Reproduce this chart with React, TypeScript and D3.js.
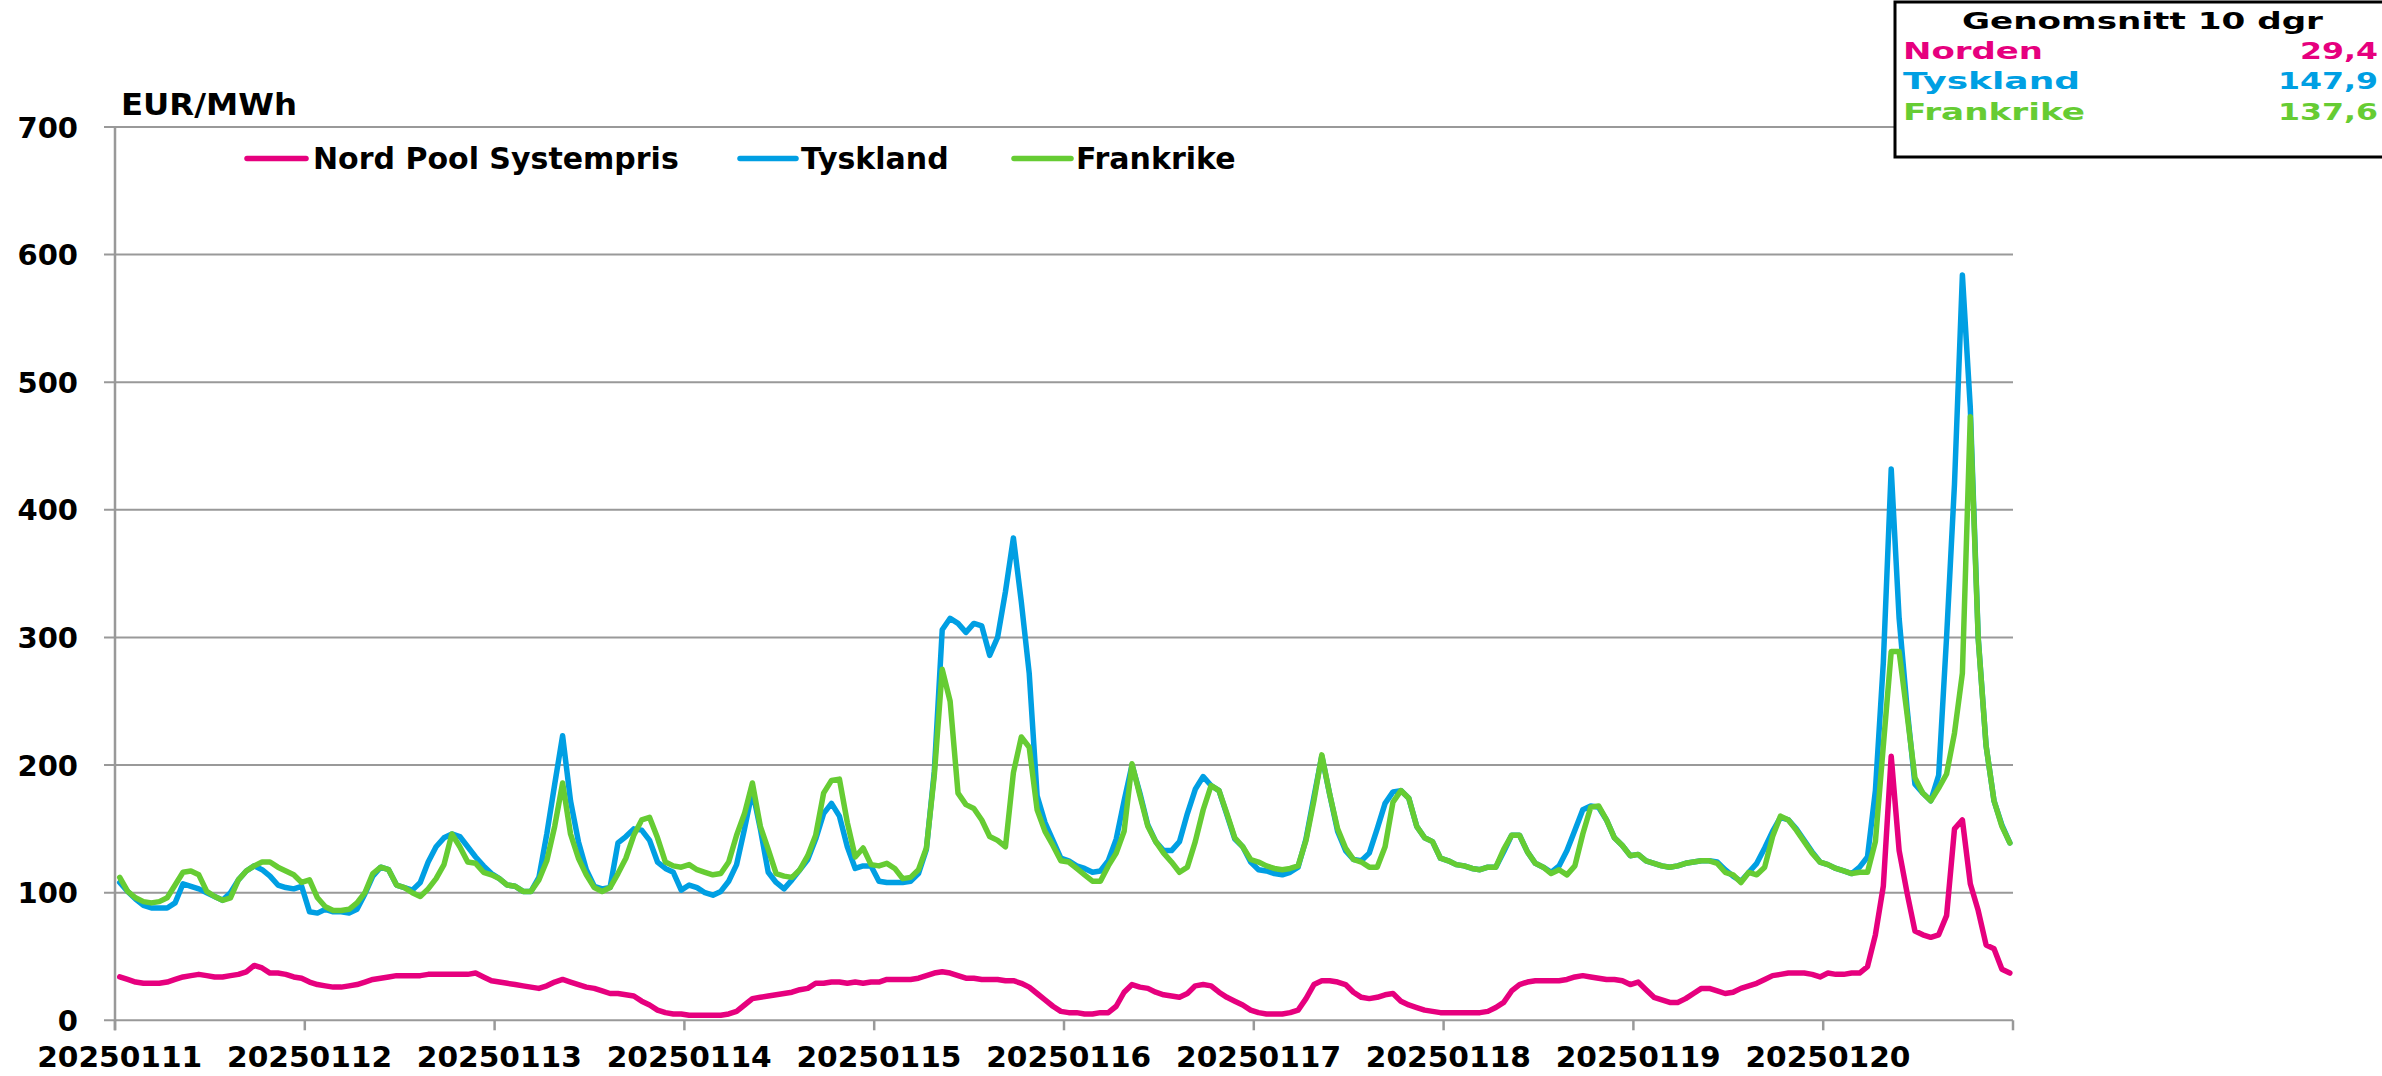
import * as d3 from 'd3';

// hourly prices, 10 days x 24 hours, EUR/MWh
const days = ['20250111', '20250112', '20250113', '20250114', '20250115', '20250116', '20250117', '20250118', '20250119', '20250120'];

const nordPool = [
  34, 32, 30, 29, 29, 29, 30, 32, 34, 35, 36, 35, 34, 34, 35, 36, 38, 43, 41, 37, 37, 36, 34, 33,
  30, 28, 27, 26, 26, 27, 28, 30, 32, 33, 34, 35, 35, 35, 35, 36, 36, 36, 36, 36, 36, 37, 34, 31,
  30, 29, 28, 27, 26, 25, 27, 30, 32, 30, 28, 26, 25, 23, 21, 21, 20, 19, 15, 12, 8, 6, 5, 5,
  4, 4, 4, 4, 4, 5, 7, 12, 17, 18, 19, 20, 21, 22, 24, 25, 29, 29, 30, 30, 29, 30, 29, 30,
  30, 32, 32, 32, 32, 33, 35, 37, 38, 37, 35, 33, 33, 32, 32, 32, 31, 31, 29, 26, 21, 16, 11, 7,
  6, 6, 5, 5, 6, 6, 11, 22, 28, 26, 25, 22, 20, 19, 18, 21, 27, 28, 27, 22, 18, 15, 12, 8,
  6, 5, 5, 5, 6, 8, 17, 28, 31, 31, 30, 28, 22, 18, 17, 18, 20, 21, 15, 12, 10, 8, 7, 6,
  6, 6, 6, 6, 6, 7, 10, 14, 23, 28, 30, 31, 31, 31, 31, 32, 34, 35, 34, 33, 32, 32, 31, 28,
  30, 24, 18, 16, 14, 14, 17, 21, 25, 25, 23, 21, 22, 25, 27, 29, 32, 35, 36, 37, 37, 37, 36, 34,
  37, 36, 36, 37, 37, 42, 67, 105, 207, 133, 100, 70, 67, 65, 67, 82, 150, 157, 107, 86, 59, 56, 40, 37,
];

const tyskland = [
  108, 101, 95, 90, 88, 88, 88, 92, 107, 105, 103, 100, 97, 94, 100, 110, 117, 121, 118, 113, 106, 104, 103, 105,
  85, 84, 87, 85, 85, 84, 87, 99, 113, 120, 118, 106, 104, 102, 108, 124, 136, 143, 146, 144, 136, 128, 121, 115,
  111, 106, 105, 101, 101, 112, 146, 185, 223, 172, 140, 118, 105, 103, 104, 139, 144, 150, 149, 141, 124, 119, 116, 102,
  106, 104, 100, 98, 101, 109, 122, 150, 180, 150, 116, 108, 103, 110, 118, 126, 142, 162, 170, 160, 136, 119, 121, 121,
  109, 108, 108, 108, 109, 115, 134, 195, 306, 315, 311, 304, 311, 309, 286, 300, 336, 378, 328, 272, 176, 155, 141, 127,
  125, 121, 119, 116, 117, 125, 142, 172, 200, 178, 153, 140, 133, 133, 140, 162, 181, 191, 184, 180, 161, 142, 136, 124,
  118, 117, 115, 114, 116, 120, 142, 175, 207, 177, 148, 133, 126, 125, 131, 150, 170, 179, 180, 174, 152, 143, 140, 127,
  125, 122, 121, 119, 118, 120, 120, 132, 145, 145, 132, 123, 120, 116, 121, 133, 149, 165, 168, 167, 157, 143, 137, 129,
  130, 125, 123, 121, 120, 121, 123, 124, 125, 125, 124, 118, 113, 109, 116, 123, 135, 148, 159, 157, 150, 141, 132, 124,
  122, 119, 117, 115, 120, 128, 180, 280, 432, 315, 245, 185, 178, 172, 192, 300, 420, 584, 480, 300, 215, 172, 153, 139,
];

const frankrike = [
  112, 101, 96, 93, 92, 93, 96, 106, 116, 117, 114, 101, 97, 94, 96, 110, 117, 121, 124, 124, 120, 117, 114, 108,
  110, 96, 89, 86, 86, 87, 92, 100, 115, 120, 118, 106, 104, 100, 97, 103, 111, 122, 146, 136, 124, 123, 116, 114,
  111, 106, 105, 101, 101, 110, 125, 152, 186, 146, 127, 114, 104, 101, 104, 115, 127, 145, 157, 159, 143, 124, 121, 120,
  122, 118, 116, 114, 115, 124, 145, 162, 186, 152, 134, 115, 113, 112, 118, 129, 145, 178, 188, 189, 155, 128, 135, 122,
  121, 123, 119, 111, 112, 118, 135, 192, 275, 250, 178, 169, 166, 157, 144, 141, 136, 194, 222, 214, 165, 148, 137, 125,
  124, 119, 114, 109, 109, 121, 131, 148, 201, 176, 152, 140, 131, 124, 116, 120, 140, 165, 184, 180, 162, 143, 136, 126,
  124, 121, 119, 118, 119, 121, 141, 172, 208, 177, 150, 135, 126, 124, 120, 120, 136, 171, 180, 174, 152, 143, 140, 127,
  125, 122, 121, 119, 118, 120, 120, 134, 145, 145, 132, 123, 120, 115, 118, 114, 121, 146, 167, 168, 157, 143, 137, 129,
  130, 125, 123, 121, 120, 121, 123, 124, 125, 125, 123, 116, 114, 108, 116, 114, 120, 144, 160, 157, 149, 140, 131, 124,
  122, 119, 117, 115, 116, 116, 140, 215, 289, 289, 240, 190, 178, 172, 182, 193, 225, 272, 473, 299, 215, 172, 152, 139,
];

const yTicks = [0, 100, 200, 300, 400, 500, 600, 700];

const seriesNames = ['Nord Pool Systempris', 'Tyskland', 'Frankrike'];
const seriesColors = ['#E6007E', '#009FE3', '#66CC33'];

const avgTitle = 'Genomsnitt 10 dgr';
const avgNames = ['Norden', 'Tyskland', 'Frankrike'];
const avgValues = ['29,4', '147,9', '137,6'];

const FONT = '"DejaVu Sans", Verdana, sans-serif';
const GRID = '#999999';

export default function App() {
  const width = 2382;
  const height = 1076;

  const x = d3.scaleLinear().domain([-0.6, 239.4]).range([115, 2013]);
  const y = d3.scaleLinear().domain([0, 700]).range([1020.3, 127]);

  const line = d3.line<number>()
    .x((_, i) => x(i))
    .y(d => y(d));

  const series = [nordPool, tyskland, frankrike];
  const dayTicks = d3.range(0, days.length + 1).map(k => -0.6 + 24 * k);

  // legend layout (line start, line end, text start)
  const legendPos = [
    [247, 306, 313],
    [740, 796, 801],
    [1014, 1071, 1076],
  ];

  return (
    <div style={{ position: 'absolute', left: 0, top: 0 }}>
      <svg width={width} height={height} style={{ display: 'block', background: '#fff' }}>
        {/* gridlines */}
        {yTicks.map(v => (
          <line key={v} x1={104} x2={2013} y1={y(v)} y2={y(v)} stroke={GRID} strokeWidth={2} />
        ))}
        {/* y axis */}
        <line x1={115} x2={115} y1={y(700)} y2={y(0) + 10} stroke={GRID} strokeWidth={2.5} />
        {/* x ticks */}
        {dayTicks.map((t, k) => (
          <line key={k} x1={x(t)} x2={x(t)} y1={y(0)} y2={y(0) + 10} stroke={GRID} strokeWidth={2.5} />
        ))}

        {/* y labels */}
        {yTicks.map(v => (
          <text key={v} x={78} y={y(v) + 10.5} textAnchor="end" fontFamily={FONT} fontWeight="bold" fontSize={29} fill="#000">
            {v}
          </text>
        ))}

        {/* x labels */}
        {days.map((d, k) => (
          <text key={d} x={x(24 * k)} y={1067} textAnchor="middle" fontFamily={FONT} fontWeight="bold" fontSize={28.5} fill="#000"
            textLength={165} lengthAdjust="spacingAndGlyphs">
            {d}
          </text>
        ))}

        <text x={121} y={115} fontFamily={FONT} fontWeight="bold" fontSize={30} fill="#000" textLength={176} lengthAdjust="spacingAndGlyphs">
          EUR/MWh
        </text>

        {/* series */}
        {series.map((s, k) => (
          <path key={k} d={line(s) || ''} fill="none" stroke={seriesColors[k]} strokeWidth={5.5}
            strokeLinejoin="round" strokeLinecap="round" />
        ))}

        {/* legend */}
        {seriesNames.map((n, k) => (
          <g key={n}>
            <line x1={legendPos[k][0]} x2={legendPos[k][1]} y1={158.5} y2={158.5} stroke={seriesColors[k]} strokeWidth={5.5} strokeLinecap="round" />
            <text x={legendPos[k][2]} y={169} fontFamily={FONT} fontWeight="bold" fontSize={30} fill="#000">
              {n}
            </text>
          </g>
        ))}

        {/* average box */}
        <rect x={1895} y={2} width={600} height={155} fill="#fff" stroke="#000" strokeWidth={3} />
        <text x={1962} y={28.5} fontFamily={FONT} fontWeight="bold" fontSize={23} fill="#000" textLength={361} lengthAdjust="spacingAndGlyphs">
          {avgTitle}
        </text>
        {avgNames.map((n, k) => (
          <g key={n}>
            <text x={1903} y={58.5 + k * 30.5} fontFamily={FONT} fontWeight="bold" fontSize={23} fill={seriesColors[k]}
              textLength={[140, 177, 182][k]} lengthAdjust="spacingAndGlyphs">
              {n}
            </text>
            <text x={2378} y={58.5 + k * 30.5} textAnchor="end" fontFamily={FONT} fontWeight="bold" fontSize={23} fill={seriesColors[k]}
              textLength={[78, 100, 100][k]} lengthAdjust="spacingAndGlyphs">
              {avgValues[k]}
            </text>
          </g>
        ))}
      </svg>
    </div>
  );
}
